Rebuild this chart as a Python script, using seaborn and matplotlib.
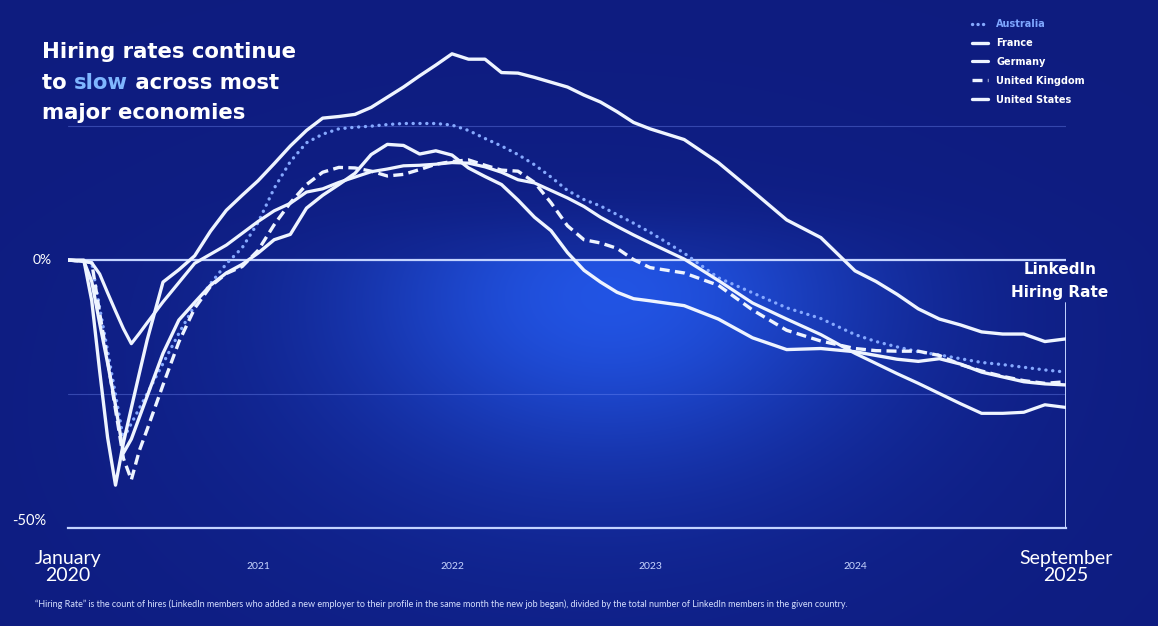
import numpy as np
import pandas as pd
import matplotlib
matplotlib.use("Agg")
import matplotlib.pyplot as plt
from matplotlib.lines import Line2D
import seaborn as sns

# ---------------- data (percent change in hiring rate vs January 2020) ----------------
months = [0, 1, 1.5, 2, 2.5, 3, 3.5, 4, 4.5, 5,
          6, 7, 8, 9, 10, 11, 12, 13, 14, 15, 16, 17, 18, 19, 20, 21,
          22, 23, 24, 25, 26, 27, 28, 29, 30, 31, 32, 33, 34, 35, 36,
          38, 40, 42, 44, 46, 48, 50, 52, 54, 56, 58, 60, 62, 64, 66, 68]

australia = [0, -0.2, -0.5, -8.9, -16.9, -25.1, -33.4, -30.5, -27.7, -24.9,
             -19.3, -13.7, -8.5, -4.4, -0.7, 2.3, 7.0, 13.4, 18.4, 21.9, 23.5, 24.5, 24.8, 25.0, 25.3, 25.5,
             25.5, 25.5, 25.2, 24.2, 22.7, 21.3, 19.7, 17.8, 15.5, 13.0, 11.3, 10.1, 8.5, 6.9, 5.2,
             1.3, -3.3, -6.1, -8.9, -10.9, -13.9, -15.2, -16.2, -17.1, -17.7, -18.4, -19.1, -19.5, -20.0, -20.5, -20.9]

france = [0, 0, -7.6, -20.7, -33.1, -42.0, -34.1, -27.6, -21.2, -14.9,
          -4.1, -1.8, 0.8, 5.4, 9.3, 12.1, 14.8, 18.0, 21.3, 24.2, 26.5, 26.8, 27.2, 28.5, 30.4, 32.3,
          34.4, 36.4, 38.5, 37.5, 37.5, 35.0, 34.9, 34.1, 33.2, 32.3, 30.8, 29.5, 27.7, 25.7, 24.5,
          22.5, 18.2, 12.9, 7.5, 4.2, -2.0, -4.0, -6.4, -9.1, -11.0, -12.1, -13.4, -13.8, -13.8, -15.2, -14.7]

germany = [0, -0.2, -0.5, -2.6, -6.1, -9.5, -12.8, -15.6, -13.7, -11.7,
           -7.8, -4.2, -0.6, 1.1, 2.8, 5.0, 7.2, 9.2, 10.6, 12.7, 13.3, 14.5, 15.5, 16.5, 17.0, 17.6,
           17.7, 17.9, 18.2, 18.1, 17.4, 16.4, 15.0, 14.4, 13.0, 11.6, 10.0, 8.0, 6.3, 4.7, 3.2,
           0.2, -3.8, -8.0, -11.0, -13.9, -17.4, -19.3, -21.2, -23.0, -24.9, -26.8, -28.6, -28.6, -28.4, -27.0, -27.5]

united_kingdom = [0, -0.2, -0.5, -9.9, -18.7, -27.9, -37.0, -41.0, -35.6, -31.6,
                  -23.3, -15.3, -9.0, -4.9, -2.5, -1.2, 1.8, 6.6, 10.7, 14.1, 16.4, 17.3, 17.2, 16.6, 15.7, 16.0,
                  16.9, 17.9, 18.4, 18.7, 17.7, 16.8, 16.6, 14.5, 10.7, 6.4, 3.8, 3.2, 2.2, 0.1, -1.4,
                  -2.4, -4.7, -9.3, -13.1, -15.1, -16.5, -16.9, -17.0, -17.0, -17.8, -19.5, -20.7, -21.7, -22.5, -23.0, -22.7]

united_states = [0, -0.2, -4.0, -11.8, -19.2, -27.1, -36.0, -33.4, -29.4, -25.4,
                 -17.4, -11.2, -7.9, -4.7, -2.4, -0.8, 1.3, 3.8, 4.8, 9.7, 12.1, 14.1, 16.2, 19.7, 21.6, 21.4,
                 19.8, 20.4, 19.6, 17.2, 15.6, 14.1, 11.2, 8.0, 5.5, 1.4, -1.9, -4.1, -6.0, -7.2, -7.6,
                 -8.5, -11.0, -14.5, -16.7, -16.5, -17.1, -17.8, -18.5, -18.9, -18.4, -19.4, -20.9, -21.8, -22.7, -23.1, -23.3]

countries = ["Australia", "France", "Germany", "United Kingdom", "United States"]
series = [australia, france, germany, united_kingdom, united_states]

tick_months = [0, 12, 24, 36, 48, 68]
tick_labels = ["January\n2020", "2021", "2022", "2023", "2024", "September\n2025"]
# relative spacing of the ticks along the axis as drawn in the slide
tick_spacing = [0, 190, 384, 582, 787, 998]

df = pd.DataFrame({
    "month": months * len(countries),
    "country": np.repeat(countries, len(months)),
    "value": np.concatenate(series),
})

# ---------------- figure / background ----------------
W, H = 1158, 626
sns.set_theme(style="white")
plt.rcParams["font.family"] = ["Lato", "DejaVu Sans"]
BOLD = ["DejaVu Sans"]

fig = plt.figure(figsize=(W / 100, H / 100), dpi=100)

yy, xx = np.mgrid[0:H, 0:W].astype(float)
dark = np.array([0.055, 0.11, 0.50])
mid = np.array([0.08, 0.18, 0.64])
glow = np.array([0.14, 0.35, 0.93])
w_gen = 0.4 * np.exp(-((xx - 560) / 450) ** 2 - ((yy - 440) / 260) ** 2)
zero_px = 260
w_glow = np.where(
    yy >= zero_px,
    0.9 * np.exp(-((xx - 610) / 260) ** 2) * np.exp(-((yy - 295) / 165) ** 2),
    0.22 * np.exp(-((xx - 610) / 260) ** 2) * np.exp(-((yy - zero_px) / 45) ** 2),
)
img = dark * (1 - w_gen[..., None]) + mid * w_gen[..., None]
img = img * (1 - w_glow[..., None]) + glow * w_glow[..., None]
bg = fig.add_axes([0, 0, 1, 1], zorder=0)
bg.imshow(np.clip(img, 0, 1), aspect="auto", extent=[0, 1, 0, 1])
bg.axis("off")

left_px, right_px, top_px, bottom_px = 68, 1066, 19, 528
ax = fig.add_axes([left_px / W, 1 - bottom_px / H, (right_px - left_px) / W, (bottom_px - top_px) / H], zorder=1)
ax.patch.set_alpha(0)


def _pw(x, xp, fp):
    x = np.asarray(x, dtype=float)
    xp = np.asarray(xp, dtype=float)
    fp = np.asarray(fp, dtype=float)
    y = np.interp(x, xp, fp)
    s0 = (fp[1] - fp[0]) / (xp[1] - xp[0])
    s1 = (fp[-1] - fp[-2]) / (xp[-1] - xp[-2])
    y = np.where(x < xp[0], fp[0] + (x - xp[0]) * s0, y)
    y = np.where(x > xp[-1], fp[-1] + (x - xp[-1]) * s1, y)
    return y


ax.set_xscale("function", functions=(lambda m: _pw(m, tick_months, tick_spacing),
                                      lambda p: _pw(p, tick_spacing, tick_months)))

line_col = "#eef4ff"
styles = {
    "Australia": dict(color="#86a9ff", linestyle=(0, (0.05, 2.0)), dash_capstyle="round", lw=2.4),
    "France": dict(color=line_col, linestyle="-", lw=2.4),
    "Germany": dict(color=line_col, linestyle="-", lw=2.3),
    "United Kingdom": dict(color=line_col, linestyle=(0, (3.0, 1.6)), lw=2.4),
    "United States": dict(color=line_col, linestyle="-", lw=2.4),
}

# reference lines
ax.axhline(0, color="#c3d3ff", lw=1.6, zorder=2)
for g in (25, -25):
    ax.axhline(g, color="#7d95ff", lw=0.8, alpha=0.35, zorder=1)

for c in countries:
    sub = df[df["country"] == c]
    sns.lineplot(data=sub, x="month", y="value", ax=ax, estimator=None, sort=False,
                 legend=False, zorder=3, solid_capstyle="round", **styles[c])

ax.set_xlim(0, 68)
ax.set_ylim(-50, 45)
ax.set_xlabel("")
ax.set_ylabel("")
for s in ("top", "right", "left"):
    ax.spines[s].set_visible(False)
ax.spines["bottom"].set_color("#c3d3ff")
ax.spines["bottom"].set_linewidth(1.6)
ax.axvline(68, ymin=0, ymax=(-8 + 50) / 95, color="#c3d3ff", lw=1.4, zorder=2)

ax.set_yticks([])
ax.set_xticks(tick_months)
ax.set_xticklabels(tick_labels)
ax.tick_params(axis="x", direction="out", length=8, width=1.2, colors="#c3d3ff", pad=20)
for lab in ax.get_xticklabels():
    lab.set_verticalalignment("center")
    if "\n" in lab.get_text():
        lab.set_fontsize(14)
        lab.set_color("white")
        lab.set_linespacing(1.0)
    else:
        lab.set_fontsize(7.5)
        lab.set_color("#c9d6ff")

ax.annotate("0%", xy=(0, 0), xycoords=("axes fraction", "data"), xytext=(-16, 0),
            textcoords="offset pixels", ha="right", va="center", fontsize=10, color="white")
ax.annotate("-50%", xy=(0, -50), xycoords=("axes fraction", "data"), xytext=(-22, 7),
            textcoords="offset pixels", ha="right", va="center", fontsize=10.5, color="white")

# ---------------- title ----------------
title_kw = dict(fontsize=15.3, fontweight="bold", color="white", va="baseline", ha="left", family=BOLD)
fig.text(42 / W, 1 - 58 / H, "Hiring rates continue", **title_kw)
t1 = fig.text(42 / W, 1 - 89 / H, "to ", **title_kw)
fig.text(42 / W, 1 - 119 / H, "major economies", **title_kw)
fig.canvas.draw()
r = fig.canvas.get_renderer()
x1 = t1.get_window_extent(r).x1
t2 = fig.text(x1 / W, 1 - 89 / H, "slow", **{**title_kw, "color": "#7fb6ff"})
fig.canvas.draw()
x2 = t2.get_window_extent(r).x1
fig.text(x2 / W, 1 - 89 / H, " across most", **title_kw)

# ---------------- right label ----------------
fig.text(1060 / W, 1 - 270 / H, "LinkedIn", fontsize=11, fontweight="bold", color="white",
         ha="center", va="center", family=BOLD)
fig.text(1060 / W, 1 - 292 / H, "Hiring Rate", fontsize=11, fontweight="bold", color="white",
         ha="center", va="center", family=BOLD)

# ---------------- legend ----------------
handles = [Line2D([], [], **styles[c]) for c in countries]
handles[0].set_linestyle((0, (0.05, 1.6)))
leg = ax.legend(handles, countries, loc="upper left", bbox_to_anchor=(972 / W, 1 - 19 / H),
                bbox_transform=fig.transFigure, frameon=False, handlelength=1.6,
                handletextpad=0.9, labelspacing=0.92, borderpad=0, borderaxespad=0,
                prop={"family": BOLD, "weight": "bold", "size": 7})
for i, t in enumerate(leg.get_texts()):
    t.set_color("#7ea6ff" if i == 0 else "white")

# ---------------- footnote ----------------
fig.text(35 / W, 1 - 604 / H,
         "\u201cHiring Rate\u201d is the count of hires (LinkedIn members who added a new employer to their profile "
         "in the same month the new job began), divided by the total number of LinkedIn members in the given country.",
         fontsize=6.5, color="#d6e0ff", ha="left", va="center")

fig.savefig("out.png", dpi=100)
